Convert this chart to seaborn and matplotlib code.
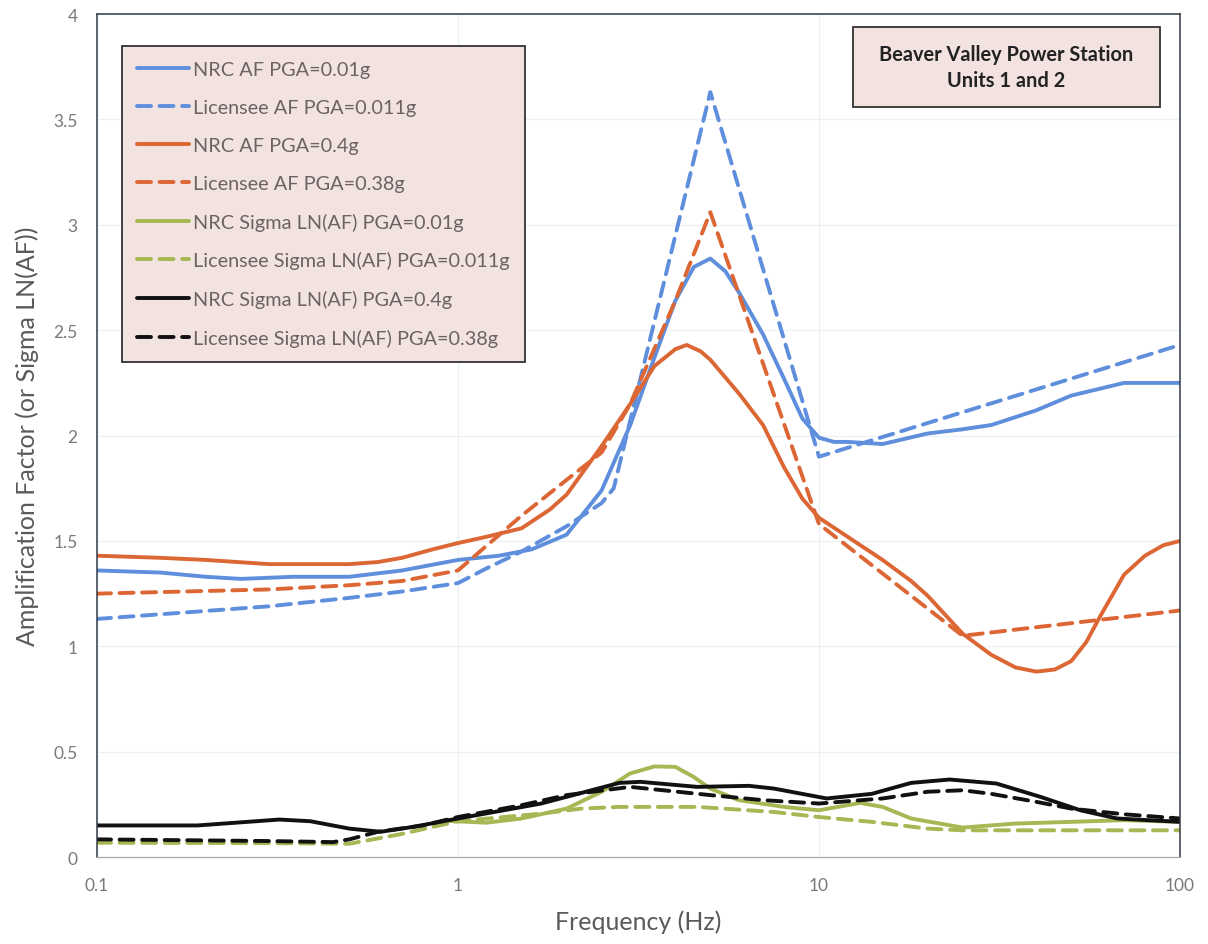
import numpy as np
import pandas as pd
import matplotlib
matplotlib.use("Agg")
import matplotlib.pyplot as plt
import seaborn as sns
from matplotlib.patches import Rectangle

# Amplification factors
nrc_af_001_f = [0.1, 0.15, 0.2, 0.25, 0.35, 0.5, 0.7, 1.0, 1.3, 1.6, 2.0, 2.5, 3.0, 3.5, 4.0, 4.5,
                5.0, 5.5, 6.0, 7.0, 8.0, 9.0, 10, 11, 12, 15, 20, 25, 30, 40, 50, 70, 100]
nrc_af_001 = [1.36, 1.35, 1.33, 1.32, 1.33, 1.33, 1.36, 1.41, 1.43, 1.46, 1.53, 1.74, 2.05, 2.37, 2.64, 2.80,
              2.84, 2.78, 2.68, 2.48, 2.27, 2.08, 1.99, 1.97, 1.97, 1.96, 2.01, 2.03, 2.05, 2.12, 2.19, 2.25, 2.25]

lic_af_0011_f = [0.1, 0.3, 0.5, 0.7, 1.0, 1.2, 1.5, 2.0, 2.5, 2.7, 5.0, 10, 100]
lic_af_0011 = [1.13, 1.19, 1.23, 1.26, 1.30, 1.37, 1.45, 1.57, 1.68, 1.75, 3.63, 1.90, 2.43]

nrc_af_04_f = [0.1, 0.15, 0.2, 0.3, 0.4, 0.5, 0.6, 0.7, 0.85, 1.0, 1.2, 1.5, 1.8, 2.0, 2.5, 3.0, 3.5,
               4.0, 4.3, 4.7, 5.0, 6.0, 7.0, 8.0, 9.0, 10, 12, 15, 18, 20, 25, 30, 35, 40, 45, 50,
               55, 60, 70, 80, 90, 100]
nrc_af_04 = [1.43, 1.42, 1.41, 1.39, 1.39, 1.39, 1.40, 1.42, 1.46, 1.49, 1.52, 1.56, 1.65, 1.72, 1.95, 2.15, 2.33,
             2.41, 2.43, 2.40, 2.36, 2.20, 2.05, 1.85, 1.70, 1.61, 1.52, 1.41, 1.31, 1.24, 1.06, 0.96, 0.90, 0.88, 0.89, 0.93,
             1.02, 1.14, 1.34, 1.43, 1.48, 1.50]

lic_af_038_f = [0.1, 0.3, 0.5, 0.7, 1.0, 1.15, 1.5, 2.0, 2.5, 3.0, 4.0, 5.0, 10, 25, 100]
lic_af_038 = [1.25, 1.27, 1.29, 1.31, 1.36, 1.45, 1.62, 1.79, 1.92, 2.15, 2.64, 3.06, 1.58, 1.05, 1.17]

# Sigma LN(AF)
nrc_sig_001_f = [0.95, 1.2, 1.5, 2.0, 2.5, 3.0, 3.5, 4.0, 4.5, 5.0, 6.0, 8.0, 10, 13, 15, 18, 25, 35, 50, 70, 100]
nrc_sig_001 = [0.171, 0.163, 0.183, 0.23, 0.31, 0.397, 0.43, 0.428, 0.38, 0.325, 0.27, 0.238, 0.222, 0.257,
               0.238, 0.183, 0.14, 0.159, 0.167, 0.175, 0.167]

lic_sig_0011_f = [0.1, 0.3, 0.5, 0.7, 1.0, 1.7, 2.2, 2.8, 4.6, 7.5, 10, 14, 20, 25, 100]
lic_sig_0011 = [0.068, 0.066, 0.063, 0.11, 0.17, 0.206, 0.23, 0.238, 0.238, 0.214, 0.19, 0.167, 0.135, 0.127, 0.127]

nrc_sig_04_f = [0.1, 0.19, 0.32, 0.39, 0.5, 0.61, 0.75, 1.0, 1.7, 2.8, 3.2, 4.6, 6.4, 7.5, 10.5, 14, 18, 23,
                31, 41, 53, 67, 100]
nrc_sig_04 = [0.15, 0.15, 0.178, 0.17, 0.135, 0.12, 0.143, 0.183, 0.254, 0.352, 0.357, 0.333, 0.338, 0.325,
              0.278, 0.30, 0.352, 0.368, 0.349, 0.286, 0.222, 0.183, 0.167]

lic_sig_038_f = [0.1, 0.3, 0.45, 0.5, 0.6, 0.8, 1.0, 1.5, 2.0, 3.0, 5.0, 7.0, 10, 15, 20, 25, 30, 40, 50, 70, 100]
lic_sig_038 = [0.084, 0.076, 0.071, 0.084, 0.12, 0.15, 0.19, 0.246, 0.294, 0.333, 0.294, 0.27, 0.254, 0.278,
               0.31, 0.317, 0.30, 0.262, 0.23, 0.203, 0.183]

BLUE = "#5f8fdc"
ORANGE = "#dc6634"
GREEN = "#a8b753"
BLACK = "#111111"

series = [
    ("NRC AF PGA=0.01g", nrc_af_001_f, nrc_af_001, BLUE, False),
    ("Licensee AF PGA=0.011g", lic_af_0011_f, lic_af_0011, BLUE, True),
    ("NRC AF PGA=0.4g", nrc_af_04_f, nrc_af_04, ORANGE, False),
    ("Licensee AF PGA=0.38g", lic_af_038_f, lic_af_038, ORANGE, True),
    ("NRC Sigma LN(AF) PGA=0.01g", nrc_sig_001_f, nrc_sig_001, GREEN, False),
    ("Licensee Sigma LN(AF) PGA=0.011g", lic_sig_0011_f, lic_sig_0011, GREEN, True),
    ("NRC Sigma LN(AF) PGA=0.4g", nrc_sig_04_f, nrc_sig_04, BLACK, False),
    ("Licensee Sigma LN(AF) PGA=0.38g", lic_sig_038_f, lic_sig_038, BLACK, True),
]

sns.set_theme(style="white")
plt.rcParams['font.family'] = ['Lato', 'DejaVu Sans']

fig = plt.figure(figsize=(12.08, 9.45), dpi=100)
ax = fig.add_axes([0.0803, 0.092, 0.8965, 0.892])

for name, f, v, col, dashed in series:
    sns.lineplot(x=f, y=v, color=col, label=name, linewidth=2.8, ax=ax)
    line = ax.lines[-1]
    line.set_solid_capstyle("round")
    if dashed:
        line.set_dashes((3.6, 2.2))
        line.set_dash_capstyle("round")

ax.set_xscale("log")
ax.set_xlim(0.1, 100)
ax.set_ylim(0, 4)
ax.set_xticks([0.1, 1, 10, 100])
ax.set_xticklabels(["0.1", "1", "10", "100"])
ax.set_yticks(np.arange(0, 4.01, 0.5))
ax.set_yticklabels(["0", "0.5", "1", "1.5", "2", "2.5", "3", "3.5", "4"])
ax.minorticks_off()
ax.tick_params(axis="both", labelsize=12.5, colors="#7a7a7a", length=0, pad=14)
ax.tick_params(axis="x", pad=14)

ax.grid(True, color="#edf0f4", linewidth=0.9)
for side in ["left", "top", "right"]:
    ax.spines[side].set_color("#333a44")
    ax.spines[side].set_linewidth(1.1)
ax.spines["bottom"].set_color("#aaaaaa")
ax.spines["bottom"].set_linewidth(0.9)

ax.set_xlabel("Frequency (Hz)", fontsize=18, color="#5a5a5a", labelpad=12)
ax.set_ylabel("Amplification Factor (or Sigma LN(AF))", fontsize=18, color="#5a5a5a", labelpad=10)

leg = ax.legend(loc="upper left", bbox_to_anchor=(0.023, 0.962), fontsize=14.3, frameon=True,
                fancybox=False, handlelength=2.65, handletextpad=0.2, labelspacing=1.05,
                borderpad=0.75, borderaxespad=0)
leg.get_frame().set_facecolor("#f3e3e0")
leg.get_frame().set_edgecolor("#333333")
leg.get_frame().set_linewidth(1.3)
leg.get_frame().set_alpha(1)
for t in leg.get_texts():
    t.set_color("#6b6262")

ax.add_patch(Rectangle((0.698, 0.8897), 0.2835, 0.0949, transform=ax.transAxes,
                       facecolor="#f3e3e0", edgecolor="#333333", linewidth=1.3, zorder=5))
ax.text(0.8395, 0.937, "Beaver Valley Power Station\nUnits 1 and 2", transform=ax.transAxes,
        ha="center", va="center", fontsize=14.4, fontweight="bold", color="#222222",
        linespacing=1.35, zorder=6)

plt.savefig("out.png", dpi=100)
